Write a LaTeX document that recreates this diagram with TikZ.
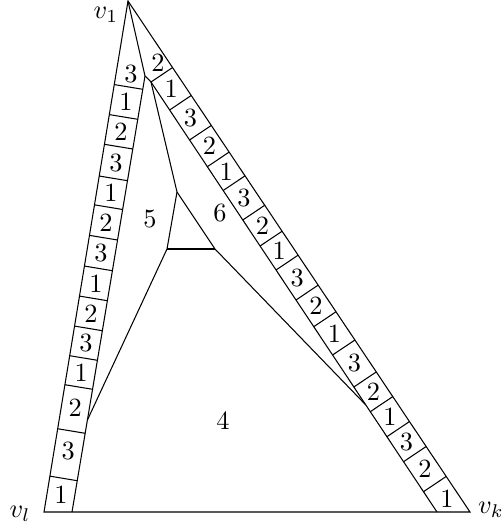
\documentclass[tikz,border=0pt]{standalone}
\usetikzlibrary{calc}

\begin{document}
\begin{tikzpicture}[
    x=0.38pt, y=-0.38pt,
    cell/.style={inner sep=0pt, font=\normalsize},
    face/.style={inner sep=0pt, font=\normalsize},
    corner/.style={inner sep=0pt, font=\normalsize},
  ]
  \useasboundingbox (0,0) rectangle (503,527);

  % Corners
  \coordinate (v1) at (128,1);
  \coordinate (vl) at (44,512);
  \coordinate (vk) at (470,512);
  \coordinate (p1) at (145,76);
  \coordinate (p2) at (151,82);
  \coordinate (b1) at (72,512);
  \coordinate (b2) at (437,512);
  \coordinate (q) at (177,192);
  \coordinate (r) at (167,249);
  \coordinate (s) at (215,249);
  \coordinate (u) at ($(p1)!0.789!(b1)$);
  \coordinate (t) at ($(p2)!0.751!(b2)$);

  % Labels of the corners
  \node[corner] (lv1) at (106,15)  {$v_1$};
  \node[corner] (lvl) at (20,514)  {$v_l$};
  \node[corner] (lvk) at (491,510) {$v_k$};

  % Edges
  \draw (v1) -- (vl) -- (vk) -- cycle;
  \draw (v1) -- (p1) -- (p2);
  \draw (p1) -- (b1);
  \draw (p2) -- (b2);
  \draw (p2) -- (q) -- (r) -- (u);
  \draw (q) -- (s) -- (t);
  \draw (r) -- (s);

  % Left strip
  \foreach \y [evaluate=\y as \t using (\y-76)/436] in
      {89.3,119.3,149,180.7,209.5,240,270.7,300.7,330.7,360.3,389.3,433.3,480.7}
    \draw ($(p1)!\t!(b1)$) coordinate (a) -- ($(v1)!(a)!(vl)$);
  \node[cell] (left0) at (131,74) {3};
  \foreach \y/\n [evaluate=\y as \t using (\y-76)/436, count=\i] in
      {104.3/1,134.2/2,164.9/3,195.1/1,224.8/2,255.4/3,285.7/1,
       315.7/2,345.5/3,374.8/1,410/2,453/3}
    \path ($(p1)!\t!(b1)$) coordinate (a) ($(v1)!(a)!(vl)$) coordinate (c)
      node[cell] (left\i) at ($(a)!0.5!(c)$) {\n};
  \node[cell] (left13) at (61,495) {1};

  % Right strip
  \foreach \y [evaluate=\y as \t using (\y-82)/430] in
      {82,110,140,166.7,190.5,220,246,270,300,326.7,355,387,411.7,436.7,461.7,491.7}
    \draw ($(p2)!\t!(b2)$) coordinate (a) -- ($(v1)!(a)!(vk)$);
  \node[cell] (right0) at (158,63) {2};
  \foreach \y/\n [evaluate=\y as \t using (\y-82)/430, count=\i] in
      {96/1,125/3,153.4/2,178.6/1,205.3/3,233/2,258/1,285/3,313.4/2,
       340.9/1,371/3,399.4/2,424.2/1,449.2/3,476.7/2}
    \path ($(p2)!\t!(b2)$) coordinate (a) ($(v1)!(a)!(vk)$) coordinate (c)
      node[cell] (right\i) at ($(a)!0.5!(c)$) {\n};
  \node[cell] (right16) at (447,499) {1};

  % Faces
  \node[face] (f4) at (223,421) {4};
  \node[face] (f5) at (150,219) {5};
  \node[face] (f6) at (220,213) {6};

\end{tikzpicture}
\end{document}
